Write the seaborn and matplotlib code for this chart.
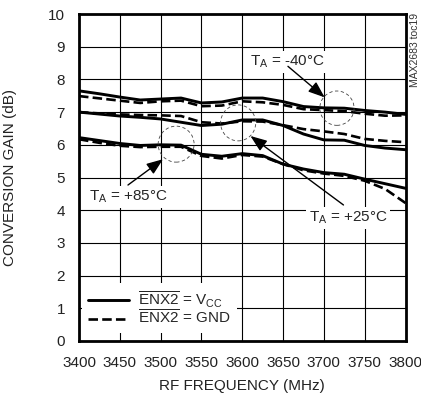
import seaborn as sns
import matplotlib.pyplot as plt
from matplotlib.patches import Ellipse
from matplotlib.lines import Line2D

# RF frequency (MHz) and conversion gain (dB)
freq = [3400, 3425, 3450, 3475, 3500, 3525, 3550, 3575, 3600,
        3625, 3650, 3675, 3700, 3725, 3750, 3775, 3800]

gain_m40_vcc = [7.65, 7.56, 7.46, 7.37, 7.40, 7.43, 7.28, 7.31, 7.43,
                7.43, 7.32, 7.17, 7.13, 7.12, 7.05, 7.00, 6.93]
gain_m40_gnd = [7.49, 7.42, 7.35, 7.28, 7.33, 7.35, 7.18, 7.20, 7.33,
                7.30, 7.22, 7.09, 7.06, 7.03, 6.95, 6.89, 6.90]
gain_p25_vcc = [7.00, 6.94, 6.88, 6.84, 6.79, 6.69, 6.59, 6.63, 6.76,
                6.76, 6.59, 6.33, 6.15, 6.14, 5.98, 5.90, 5.85]
gain_p25_gnd = [7.00, 6.96, 6.93, 6.91, 6.90, 6.88, 6.69, 6.65, 6.72,
                6.71, 6.60, 6.48, 6.41, 6.33, 6.18, 6.12, 6.08]
gain_p85_vcc = [6.22, 6.13, 6.04, 5.98, 6.00, 5.99, 5.71, 5.65, 5.73,
                5.67, 5.41, 5.26, 5.15, 5.10, 4.95, 4.81, 4.67]
gain_p85_gnd = [6.17, 6.06, 5.97, 5.93, 5.94, 5.94, 5.66, 5.58, 5.69,
                5.64, 5.41, 5.22, 5.12, 5.05, 4.90, 4.65, 4.22]

DASH = (0, (3.6, 1.6))

sns.set_style('white')
plt.rcParams['font.family'] = ['Liberation Sans', 'DejaVu Sans']
plt.rcParams['mathtext.default'] = 'regular'

fig = plt.figure(figsize=(4.21, 4.0), dpi=100)
ax = fig.add_axes([79 / 421, 59 / 400, 326.5 / 421, 327 / 400])

# solid = ENX2 at VCC, dashed = ENX2 at GND
for vals in [gain_m40_vcc, gain_p25_vcc, gain_p85_vcc]:
    sns.lineplot(x=freq, y=vals, ax=ax, color='black', lw=2.1, zorder=3)
for vals in [gain_m40_gnd, gain_p25_gnd, gain_p85_gnd]:
    sns.lineplot(x=freq, y=vals, ax=ax, color='black', lw=1.9,
                 linestyle=DASH, zorder=3)

ax.set_xlim(3400, 3800)
ax.set_ylim(0, 10)
ax.set_xticks(range(3400, 3801, 50))
ax.set_yticks(range(0, 11))
ax.grid(True, color='black', lw=0.8)
ax.tick_params(length=0, labelsize=11, labelcolor='#222222')
ax.tick_params(axis='x', pad=11)
ax.tick_params(axis='y', pad=10)
for s in ax.spines.values():
    s.set_color('black')
    s.set_linewidth(2)

ax.set_xlabel('RF FREQUENCY (MHz)', fontsize=11, color='#222222')
ax.set_ylabel('CONVERSION GAIN (dB)', fontsize=11, color='#222222')
ax.xaxis.set_label_coords(0.5, -0.115)
ax.yaxis.set_label_coords(-0.19, 0.5)

# dashed circles around each temperature group
for cx, cy, w, h in [(3716, 7.12, 42, 1.05), (3595, 6.67, 43, 1.1),
                     (3519, 6.02, 44, 1.1)]:
    ax.add_patch(Ellipse((cx, cy), w, h, fill=False, ec='#444444',
                         lw=0.6, ls=(0, (4, 3)), zorder=4))

box = dict(facecolor='white', edgecolor='none', pad=2)
ax.text(3655, 8.53, 'T$_A$ = -40°C', ha='center', va='center',
        fontsize=11, bbox=box, zorder=5)
ax.text(3461, 4.40, 'T$_A$ = +85°C', ha='center', va='center',
        fontsize=11, bbox=box, zorder=5)
ax.text(3730, 3.76, 'T$_A$ = +25°C', ha='center', va='center',
        fontsize=11, bbox=box, zorder=5)

arrow = dict(arrowstyle='-|>,head_length=1.0,head_width=0.38',
             color='black', lw=1, shrinkA=0, shrinkB=0)
ax.annotate('', xy=(3701, 7.45), xytext=(3656, 8.40), arrowprops=arrow, zorder=5)
ax.annotate('', xy=(3610, 6.27), xytext=(3724, 4.16), arrowprops=arrow, zorder=5)
ax.annotate('', xy=(3503, 5.56), xytext=(3460, 4.77), arrowprops=arrow, zorder=5)

handles = [Line2D([], [], color='black', lw=2.1),
           Line2D([], [], color='black', lw=1.9, linestyle=DASH)]
labels = [r'$\overline{ENX2}$ = V$_{CC}$', r'$\overline{ENX2}$ = GND']
leg = ax.legend(handles, labels, loc='lower left', bbox_to_anchor=(0.009, 0.024),
                fontsize=11, frameon=True, fancybox=False, framealpha=1,
                facecolor='white', edgecolor='none', borderaxespad=0,
                borderpad=0.4, handlelength=2.7, handletextpad=0.6,
                labelspacing=-0.05)
leg.set_zorder(6)

fig.text(415 / 421, 1 - 13 / 400, 'MAX2683 toc19', rotation=90,
         ha='center', va='top', fontsize=7.5, color='#333333')

fig.savefig('out.png', dpi=100)
